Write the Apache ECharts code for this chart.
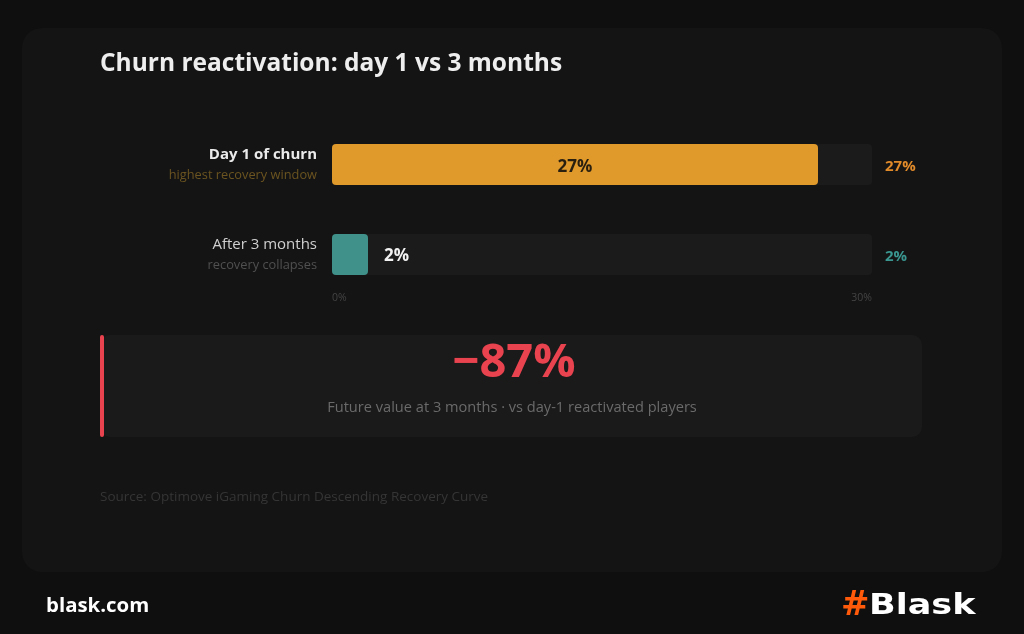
<!DOCTYPE html>
<html>
<head>
<meta charset="utf-8">
<script src="https://cdn.jsdelivr.net/npm/echarts@6/dist/echarts.min.js"></script>
<style>
html,body{margin:0;padding:0;background:#0f0f0f;}
#chart{width:1024px;height:634px;}
</style>
</head>
<body>
<div id="chart"></div>
<script>
const title = 'Churn reactivation: day 1 vs 3 months';
const categories = ['Day 1 of churn', 'After 3 months'];
const subtitles = ['highest recovery window', 'recovery collapses'];
const values = [27, 2];
const barColors = ['#e0992b', '#3f918a'];
const sideLabelColors = ['#e08a2a', '#3a9690'];
const axisMax = 30;
const tickLabels = ['0%', '30%'];
const calloutValue = '\u221287%';
const calloutText = 'Future value at 3 months \u00b7 vs day-1 reactivated players';
const source = 'Source: Optimove iGaming Churn Descending Recovery Curve';

const FONT = '"Open Sans", "Noto Sans", sans-serif';
const LOGO_FONT = '"DejaVu Sans", sans-serif';
const chart = echarts.init(document.getElementById('chart'), null, {renderer: 'canvas'});

const option = {
  backgroundColor: '#0f0f0f',
  animation: false,
  textStyle: {fontFamily: FONT},
  graphic: [
    {type: 'rect', z: -10, shape: {x: 22, y: 28, width: 980, height: 544, r: 20}, style: {fill: '#141414'}},
    {type: 'rect', z: -5, shape: {x: 100, y: 335, width: 822, height: 102, r: 10}, style: {fill: '#1a1a1a'}},
    {type: 'rect', z: -4, shape: {x: 100, y: 335, width: 4, height: 102, r: 2}, style: {fill: '#e8434f'}},
    {type: 'text', x: 514, y: 364, style: {text: calloutValue, fill: '#e8434f', font: 'bold 47px ' + FONT, textAlign: 'center', textVerticalAlign: 'middle'}},
    {type: 'text', x: 512, y: 408, style: {text: calloutText, fill: '#6a6a6a', font: '14.6px ' + FONT, textAlign: 'center', textVerticalAlign: 'middle'}},
    {type: 'text', x: 100, y: 497, style: {text: source, fill: '#353535', font: '13.5px ' + FONT, textVerticalAlign: 'middle'}},
    {type: 'text', x: 46, y: 606, style: {text: 'blask.com', fill: '#ffffff', font: 'bold 20.4px ' + FONT, textVerticalAlign: 'middle'}},
    {type: 'text', x: 841, y: 606, style: {text: '#', fill: '#ff5a0a', font: 'bold 34px ' + LOGO_FONT, textVerticalAlign: 'middle'}},
    {type: 'text', x: 869, y: 607, scaleX: 1.25, style: {text: 'Blask', fill: '#ffffff', font: 'bold 28px ' + LOGO_FONT, textVerticalAlign: 'middle'}}
  ],
  title: {
    text: title,
    left: 100, top: 52, padding: 0,
    textStyle: {color: '#eeeeee', fontSize: 24.5, fontWeight: 'bold', fontFamily: FONT}
  },
  grid: {left: 332, right: 152, top: 119.5, height: 180, containLabel: false},
  xAxis: {
    type: 'value', min: 0, max: axisMax, interval: axisMax,
    splitLine: {show: false}, axisLine: {show: false}, axisTick: {show: false},
    axisLabel: {
      color: '#444', fontSize: 10.5, margin: -7,
      formatter: function (v) { return v === 0 ? tickLabels[0] : tickLabels[1]; },
      alignMinLabel: 'left', alignMaxLabel: 'right'
    }
  },
  yAxis: [
    {
      type: 'category', data: categories, inverse: true,
      axisLine: {show: false}, axisTick: {show: false},
      axisLabel: {
        margin: 15, align: 'right',
        formatter: function (v, i) {
          return (i === 0 ? '{t0|' : '{t1|') + v + '}\n' + (i === 0 ? '{s0|' : '{s1|') + subtitles[i] + '}';
        },
        rich: {
          t0: {color: '#eaeaea', fontSize: 15, fontWeight: 'bold', lineHeight: 22, align: 'right', fontFamily: FONT},
          t1: {color: '#cfcfcf', fontSize: 15, lineHeight: 22, align: 'right', fontFamily: FONT},
          s0: {color: '#6b5420', fontSize: 12.8, lineHeight: 19, align: 'right', fontFamily: FONT},
          s1: {color: '#505050', fontSize: 12.8, lineHeight: 19, align: 'right', fontFamily: FONT}
        }
      }
    },
    {
      type: 'category', data: categories, inverse: true, position: 'right',
      axisLine: {show: false}, axisTick: {show: false},
      axisLabel: {
        margin: 13, align: 'left', padding: [4, 0, 0, 0],
        formatter: function (v, i) { return '{c' + i + '|' + values[i] + '%}'; },
        rich: {
          c0: {color: sideLabelColors[0], fontSize: 15, fontWeight: 'bold', fontFamily: FONT},
          c1: {color: sideLabelColors[1], fontSize: 15, fontWeight: 'bold', fontFamily: FONT}
        }
      }
    }
  ],
  series: [{
    type: 'bar',
    barWidth: 41,
    showBackground: true,
    backgroundStyle: {color: '#1b1b1b', borderRadius: 4},
    data: values.map(function (v, i) {
      return {
        value: v,
        itemStyle: {color: barColors[i], borderRadius: 4},
        label: i === 0
          ? {show: true, position: 'inside', color: '#2a2010', fontSize: 17, fontWeight: 'bold', formatter: '{c}%', offset: [0, 3]}
          : {show: true, position: 'right', distance: 16, color: '#f2f2f2', fontSize: 17, fontWeight: 'bold', formatter: '{c}%', offset: [0, 2]}
      };
    })
  }]
};
chart.setOption(option);
</script>
</body>
</html>
